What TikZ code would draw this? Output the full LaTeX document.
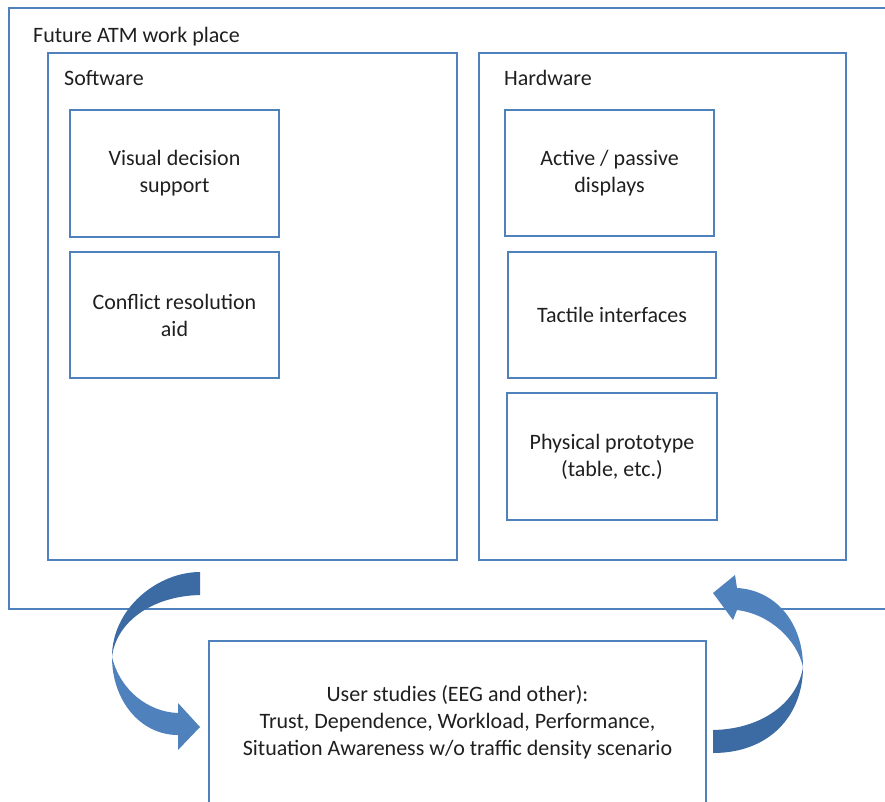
\documentclass[tikz,border=0pt]{standalone}
\usepackage{fontspec}
\setmainfont{Carlito}
\definecolor{edge}{HTML}{4F81BD}
\definecolor{ink}{HTML}{1F1F1F}
\definecolor{bentLight}{HTML}{4F81BD}
\definecolor{bentDark}{HTML}{3C6AA3}
\tikzset{
  framebox/.style={draw=edge,line width=2pt,inner sep=0pt},
  itembox/.style={framebox,align=center,text=ink,font=\fontsize{22}{27}\selectfont},
  heading/.style={anchor=base west,inner sep=0pt,text=ink,font=\fontsize{22}{27}\selectfont},
  bentfront/.style={fill=bentLight},
  bentback/.style={fill=bentDark}
}
\begin{document}
\begin{tikzpicture}[x=1pt,y=-1pt]
    \useasboundingbox (0,0) rectangle (885,801);
    \clip (0,0) rectangle (885,801);
    \node[framebox,minimum width=891pt,minimum height=601pt] (workplace) at (454.5,308.5) {};
    \node[heading] (workplaceTitle) at (33,42) {Future ATM work place};

    \node[framebox,minimum width=409pt,minimum height=507pt] (software) at (252.5,306.5) {};
    \node[heading] (softwareTitle) at (64,85) {Software};
    \node[itembox,minimum width=209pt,minimum height=127pt] (visual) at (174.5,173.5) {Visual decision\\support};
    \node[itembox,minimum width=209pt,minimum height=126pt] (conflict) at (174.5,315) {Conflict resolution\\aid};

    \node[framebox,minimum width=367pt,minimum height=507pt] (hardware) at (662.5,306.5) {};
    \node[heading] (hardwareTitle) at (504,85) {Hardware};
    \node[itembox,minimum width=209pt,minimum height=126pt] (displays) at (609.5,173) {Active / passive\\displays};
    \node[itembox,minimum width=208pt,minimum height=126pt] (tactile) at (612,315) {Tactile interfaces};
    \node[itembox,minimum width=210pt,minimum height=127pt] (prototype) at (612,456.5) {Physical prototype\\(table, etc.)};

    \node[itembox,minimum width=497pt,minimum height=162pt] (studies) at (457.5,722) {User studies (EEG and other):\\Trust, Dependence, Workload, Performance,\\Situation Awareness w/o traffic density scenario};

    \fill[bentback] (200,572) .. controls (158,572) and (112,608) .. (112,657) .. controls (116,622) and (152,596) .. (200,595) -- cycle;
    \fill[bentfront] (112,657) .. controls (112,700) and (140,735) .. (178,735) -- (178,750) -- (200,727) -- (178,703) -- (178,713) .. controls (148,712) and (120,690) .. (112,657) -- cycle;

    \fill[bentback] (713,753) .. controls (770,753) and (803,715) .. (803,667) .. controls (798,700) and (765,729) .. (713,730) -- cycle;
    \fill[bentfront] (803,667) .. controls (803,622) and (775,590) .. (737,588) -- (735,575) -- (713,593) -- (733,620) -- (737,610) .. controls (770,614) and (797,640) .. (803,667) -- cycle;
\end{tikzpicture}
\end{document}
